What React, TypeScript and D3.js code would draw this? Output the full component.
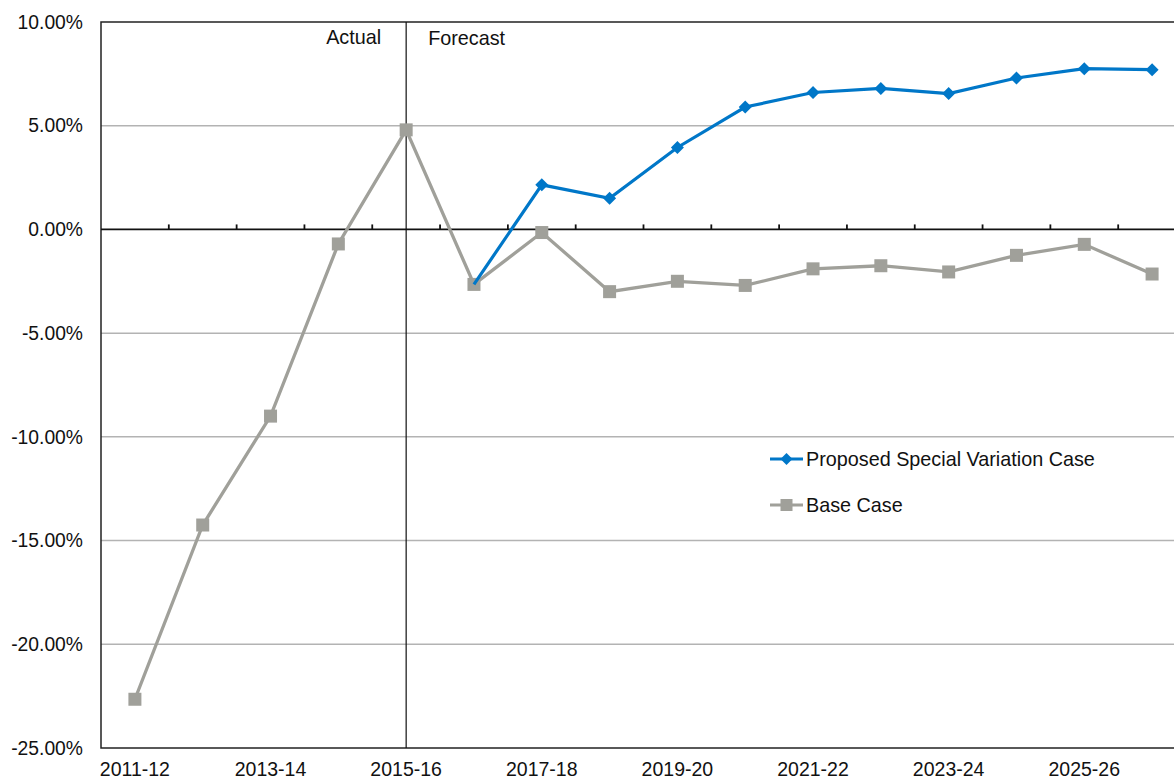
import React from "react";
import * as d3 from "d3";

const categories = [
  "2011-12","2012-13","2013-14","2014-15","2015-16","2016-17","2017-18","2018-19",
  "2019-20","2020-21","2021-22","2022-23","2023-24","2024-25","2025-26","2026-27",
];
const baseCase = [-22.65, -14.25, -9.0, -0.7, 4.8, -2.65, -0.15, -3.0, -2.5, -2.7, -1.9, -1.75, -2.05, -1.25, -0.72, -2.15];
const proposedCase: (number | null)[] = [null, null, null, null, null, -2.65, 2.15, 1.5, 3.95, 5.9, 6.6, 6.8, 6.55, 7.3, 7.75, 7.7];
const yTicks = [10, 5, 0, -5, -10, -15, -20, -25];
const xLabelEvery = 2;

const W = 1174, H = 780;
const left = 101, right = 1186, top = 22, bottom = 748;
const BLUE = "#0077c8";
const GRAY = "#a0a09a";
const FONT = "Liberation Sans, Arial, sans-serif";
const FS = 19.3;

export default function App() {
  const x = d3.scaleBand<string>().domain(categories).range([left, right]);
  const cx = (c: string) => (x(c) as number) + x.bandwidth() / 2;
  const y = d3.scaleLinear().domain([-25, 10]).range([bottom, top]);

  const line = d3.line<[string, number | null]>()
    .defined((d) => d[1] !== null)
    .x((d) => cx(d[0]))
    .y((d) => y(d[1] as number));

  const basePts = categories.map((c, i) => [c, baseCase[i]] as [string, number | null]);
  const propPts = categories.map((c, i) => [c, proposedCase[i]] as [string, number | null]);

  const diamond = (px: number, py: number, r: number) =>
    `M${px},${py - r}L${px + r},${py}L${px},${py + r}L${px - r},${py}Z`;

  const divider = cx("2015-16");

  return (
    <svg width={W} height={H} style={{ position: "absolute", left: 0, top: 0, overflow: "hidden", background: "#fff" }}>
      <rect x={0} y={0} width={W} height={H} fill="#fff" />
      {yTicks.filter((t) => t !== 0 && t !== 10 && t !== -25).map((t) => (
        <line key={t} x1={left} x2={right} y1={y(t)} y2={y(t)} stroke="#b3b3b3" strokeWidth={1.5} />
      ))}
      <rect x={left} y={top} width={right - left} height={bottom - top} fill="none" stroke="#222" strokeWidth={1.5} />
      {/* zero axis */}
      <line x1={left} x2={right} y1={y(0)} y2={y(0)} stroke="#111" strokeWidth={1.8} />
      {categories.map((c, i) => i > 0 ? (
        <line key={c} x1={x(c)} x2={x(c)} y1={y(0) - 5} y2={y(0)} stroke="#111" strokeWidth={1.8} />
      ) : null)}
      {/* divider */}
      <line x1={divider} x2={divider} y1={top} y2={bottom} stroke="#111" strokeWidth={1.2} />
      <text x={divider - 25} y={44} fontFamily={FONT} fontSize={19.8} textAnchor="end" fill="#111">Actual</text>
      <text x={divider + 22} y={45} fontFamily={FONT} fontSize={19.8} textAnchor="start" fill="#111">Forecast</text>
      {/* y labels */}
      {yTicks.map((t) => (
        <text key={t} x={83} y={y(t) + 6.7} fontFamily={FONT} fontSize={FS} textAnchor="end" fill="#111">
          {t.toFixed(2) + "%"}
        </text>
      ))}
      {/* x labels */}
      {categories.map((c, i) => i % xLabelEvery === 0 ? (
        <text key={c} x={cx(c)} y={776} fontFamily={FONT} fontSize={19.5} textAnchor="middle" fill="#111">{c}</text>
      ) : null)}
      {/* series */}
      <path d={line(basePts) || ""} fill="none" stroke={GRAY} strokeWidth={3.3} />
      {basePts.map(([c, v]) => (
        <rect key={c} x={cx(c) - 6.5} y={y(v as number) - 6.5} width={13} height={13} fill={GRAY} />
      ))}
      <path d={line(propPts) || ""} fill="none" stroke={BLUE} strokeWidth={3.2} />
      {propPts.filter((d) => d[1] !== null).map(([c, v], i) => i === 0 ? null : (
        <path key={c} d={diamond(cx(c), y(v as number), 6.5)} fill={BLUE} />
      ))}
      {/* legend */}
      <line x1={770} x2={803} y1={459} y2={459} stroke={BLUE} strokeWidth={3} />
      <path d={diamond(786.5, 459, 6)} fill={BLUE} />
      <text x={806} y={465.8} fontFamily={FONT} fontSize={19.8} fill="#111">Proposed Special Variation Case</text>
      <line x1={770} x2={803} y1={505} y2={505} stroke={GRAY} strokeWidth={3} />
      <rect x={780.5} y={499} width={12} height={12} fill={GRAY} />
      <text x={806} y={511.8} fontFamily={FONT} fontSize={19.8} fill="#111">Base Case</text>
    </svg>
  );
}
